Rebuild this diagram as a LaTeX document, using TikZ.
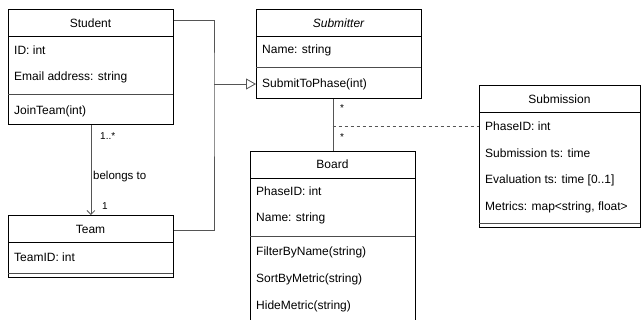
\documentclass[tikz,border=0pt]{standalone}
\usepackage{fontspec}
\setmainfont{Liberation Sans}
\usetikzlibrary{arrows.meta}
\definecolor{conncol}{HTML}{555555}
\tikzset{
  cls/.style={draw=black, line width=0.8pt, rectangle, inner sep=0pt, anchor=north west},
  sep/.style={draw=black, line width=0.8pt},
  sepg/.style={draw=black!70, line width=0.8pt},
  txt/.style={anchor=west, inner sep=0pt, font=\fontsize{12}{14}\selectfont},
  hdr/.style={anchor=center, inner sep=0pt, font=\fontsize{12}{14}\selectfont},
  lbl/.style={anchor=west, inner sep=0pt, font=\fontsize{10}{12}\selectfont},
  conn/.style={draw=conncol, line width=0.8pt},
}
\begin{document}
\begin{tikzpicture}[x=1pt,y=-1pt]
\useasboundingbox[fill=white] (0,0) rectangle (641,320);
% Student
\node[cls, minimum width=165pt, minimum height=115pt] (student) at (8,9) {};
\draw[sep] (8,36) -- (173,36);
\draw[sepg] (8,94) -- (173,94);
\node[hdr] (studentH) at (90.5,23) {Student};
\node[txt] (s1) at (14,50) {ID: int};
\node[txt] (s2) at (14,77) {Email address: string};
\node[txt] (s3) at (14,111) {JoinTeam(int)};
% Team
\node[cls, minimum width=165pt, minimum height=62pt] (team) at (8,215) {};
\draw[sep] (8,242) -- (173,242);
\draw[sepg] (8,273) -- (173,273);
\node[hdr] (teamH) at (90.5,229) {Team};
\node[txt] (t1) at (14,257) {TeamID: int};
% Submitter
\node[cls, minimum width=165pt, minimum height=89pt] (submitter) at (256,9) {};
\draw[sep] (256,36) -- (421,36);
\draw[sepg] (256,67) -- (421,67);
\node[hdr] (subH) at (338.5,23) {\itshape Submitter};
\node[txt] (u1) at (262,50) {Name: string};
\node[txt] (u2) at (262,84) {SubmitToPhase(int)};
% Board
\node[cls, minimum width=165pt, minimum height=172pt] (board) at (250,151) {};
\draw[sep] (250,178) -- (415,178);
\draw[sepg] (250,236) -- (415,236);
\node[hdr] (boardH) at (332.5,164) {Board};
\node[txt] (b1) at (256,191) {PhaseID: int};
\node[txt] (b2) at (256,218) {Name: string};
\node[txt] (b3) at (256,252) {FilterByName(string)};
\node[txt] (b4) at (256,279) {SortByMetric(string)};
\node[txt] (b5) at (256,306) {HideMetric(string)};
% Submission
\node[cls, minimum width=161pt, minimum height=142pt] (submission) at (479,85) {};
\draw[sep] (479,112) -- (640,112);
\draw[sepg] (479,223) -- (640,223);
\node[hdr] (smH) at (559.5,99) {Submission};
\node[txt] (m1) at (485,126) {PhaseID: int};
\node[txt] (m2) at (485,153) {Submission ts: time};
\node[txt] (m3) at (485,180) {Evaluation ts: time [0..1]};
\node[txt] (m4) at (485,207) {Metrics: map<string, float>};
% Generalization
\coordinate (j) at (214,84);
\draw[conn] ([yshift=-11pt]student.north east) -| (j) |- ([yshift=-15pt]team.north east);
\draw[conn, -{Triangle[open, length=10pt, width=11pt]}] (j) -- (submitter.west |- j);
% belongs to
\draw[conn, -{Straight Barb[length=4pt, width=8pt]}] (student.south) -- (team.north);
\node[lbl] (l1) at (100,136) {1..*};
\node[lbl, font=\fontsize{11.5}{13}\selectfont] (l2) at (93,177) {belongs to};
\node[lbl] (l3) at (102,206) {1};
% Submitter - Board
\coordinate (bt) at (board.north |- submitter.south);
\draw[conn] (bt) -- (board.north);
\coordinate (d) at (332.5,126);
\draw[conn, dashed, dash pattern=on 3pt off 3pt] (d) -- (submission.west |- d);
\node[lbl] (a1) at (340,108) {*};
\node[lbl] (a2) at (340,137) {*};
\end{tikzpicture}
\end{document}
